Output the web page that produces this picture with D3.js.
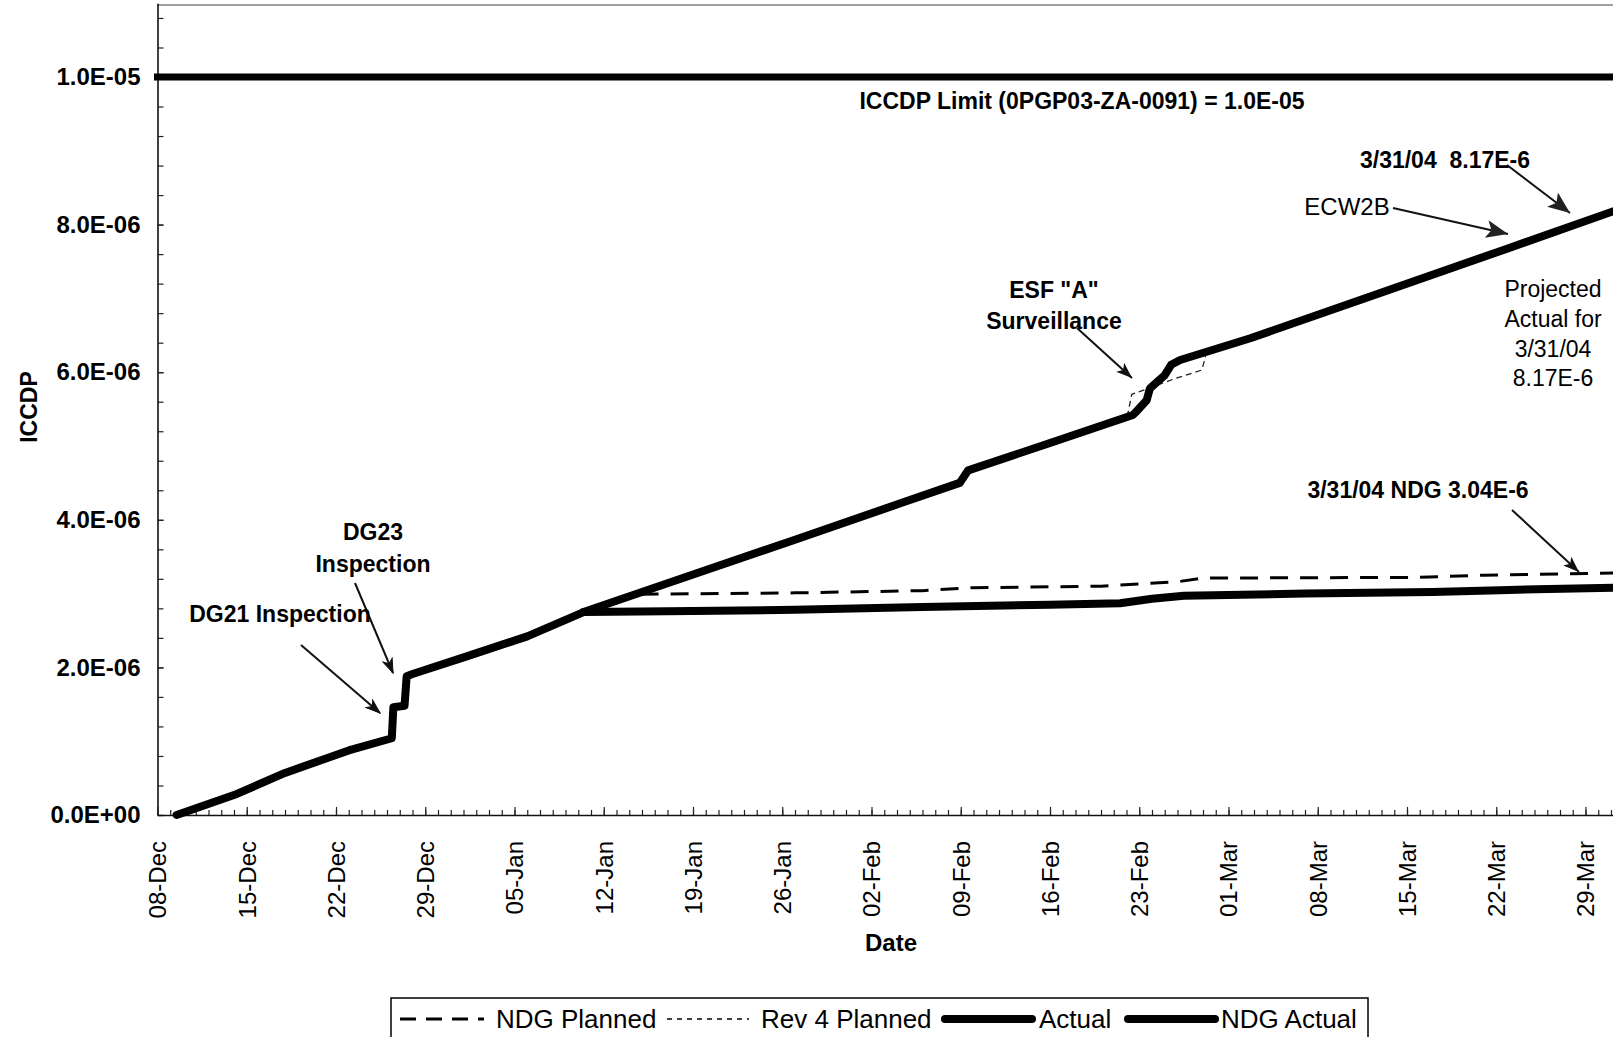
<!DOCTYPE html>
<html>
<head>
<meta charset="utf-8">
<script src="https://cdn.jsdelivr.net/npm/d3@7"></script>
<style>
  html, body { margin: 0; padding: 0; background: #fff; }
  svg { display: block; }
  text { font-family: "Liberation Sans", Arial, Helvetica, sans-serif; fill: #000; white-space: pre; }
</style>
</head>
<body>
<svg id="chart" width="1613" height="1037"></svg>
<script>
// ---------------- DATA ----------------
const xTickDates = ["2003-12-08","2003-12-15","2003-12-22","2003-12-29","2004-01-05","2004-01-12",
  "2004-01-19","2004-01-26","2004-02-02","2004-02-09","2004-02-16","2004-02-23","2004-03-01",
  "2004-03-08","2004-03-15","2004-03-22","2004-03-29"];
const xTickLabels = ["08-Dec","15-Dec","22-Dec","29-Dec","05-Jan","12-Jan","19-Jan","26-Jan",
  "02-Feb","09-Feb","16-Feb","23-Feb","01-Mar","08-Mar","15-Mar","22-Mar","29-Mar"];
const yTickValues = [0, 2e-6, 4e-6, 6e-6, 8e-6, 1e-5];
const yTickLabels = ["0.0E+00","2.0E-06","4.0E-06","6.0E-06","8.0E-06","1.0E-05"];

const limitDates = ["2003-12-08 00:00", "2004-04-03 00:00"];
const limitValues = [1.0e-5, 1.0e-5];

const actualDates = ["2003-12-09 12:00","2003-12-14 00:00","2003-12-18 00:00","2003-12-23 00:00",
  "2003-12-26 09:00","2003-12-26 12:00","2003-12-27 09:00","2003-12-27 13:00","2003-12-28 00:00",
  "2004-01-01 06:00","2004-01-06 00:00","2004-01-10 10:00","2004-01-17 00:00","2004-01-27 00:00",
  "2004-02-04 05:00","2004-02-08 22:00","2004-02-09 14:00","2004-02-16 00:00","2004-02-22 12:00",
  "2004-02-22 19:00","2004-02-23 14:00","2004-02-23 20:00","2004-02-24 10:00","2004-02-25 00:00",
  "2004-02-25 12:00","2004-02-26 05:00","2004-03-02 17:00","2004-03-12 00:00","2004-03-22 19:00",
  "2004-03-31 12:00"];
const actualValues = [0, 0.27e-6, 0.57e-6, 0.875e-6,
  1.04e-6, 1.46e-6, 1.48e-6, 1.88e-6, 1.91e-6,
  2.15e-6, 2.42e-6, 2.75e-6, 3.14e-6, 3.73e-6,
  4.22e-6, 4.50e-6, 4.67e-6, 5.04e-6, 5.42e-6,
  5.47e-6, 5.62e-6, 5.78e-6, 5.87e-6, 5.96e-6,
  6.10e-6, 6.165e-6, 6.46e-6, 7.02e-6, 7.67e-6,
  8.20e-6];

const rev4Dates = ["2003-12-09 12:00","2003-12-14 00:00","2003-12-18 00:00","2003-12-23 00:00",
  "2003-12-26 09:00","2003-12-26 12:00","2003-12-27 09:00","2003-12-27 13:00","2003-12-28 00:00",
  "2004-01-01 06:00","2004-01-06 00:00","2004-01-10 10:00","2004-01-27 00:00","2004-02-04 05:00",
  "2004-02-08 22:00","2004-02-09 14:00","2004-02-16 00:00","2004-02-22 01:00","2004-02-22 10:00",
  "2004-02-25 22:00","2004-02-27 22:00","2004-02-28 07:00","2004-03-02 17:00","2004-03-12 00:00",
  "2004-03-22 19:00","2004-03-31 12:00"];
const rev4Values = [0, 0.27e-6, 0.57e-6, 0.875e-6,
  1.04e-6, 1.46e-6, 1.48e-6, 1.88e-6, 1.91e-6,
  2.15e-6, 2.42e-6, 2.75e-6, 3.73e-6, 4.22e-6,
  4.50e-6, 4.67e-6, 5.04e-6, 5.39e-6, 5.70e-6,
  5.92e-6, 6.03e-6, 6.28e-6, 6.46e-6, 7.02e-6,
  7.67e-6, 8.20e-6];

const ndgPlannedDates = ["2004-01-10 10:00","2004-01-14 10:00","2004-01-27 00:00","2004-02-06 00:00",
  "2004-02-10 00:00","2004-02-20 00:00","2004-02-23 00:00","2004-02-26 00:00","2004-02-28 00:00",
  "2004-03-16 00:00","2004-03-21 00:00","2004-03-31 12:00"];
const ndgPlannedValues = [2.75e-6, 2.99e-6, 3.01e-6, 3.04e-6,
  3.08e-6, 3.10e-6, 3.13e-6, 3.16e-6, 3.21e-6,
  3.22e-6, 3.25e-6, 3.28e-6];

const ndgActualDates = ["2004-01-10 10:00","2004-01-17 00:00","2004-01-27 00:00","2004-02-06 00:00",
  "2004-02-16 00:00","2004-02-21 12:00","2004-02-24 00:00","2004-02-26 12:00","2004-03-07 00:00",
  "2004-03-17 00:00","2004-03-23 00:00","2004-03-31 12:00"];
const ndgActualValues = [2.75e-6, 2.76e-6, 2.78e-6, 2.82e-6,
  2.85e-6, 2.87e-6, 2.93e-6, 2.97e-6, 3.00e-6,
  3.02e-6, 3.05e-6, 3.08e-6];

const legendNames = ["NDG Planned", "Rev 4 Planned", "Actual", "NDG Actual"];

// ---------------- LAYOUT ----------------
const svg = d3.select("#chart");
const FONT = '"Liberation Sans", Arial, Helvetica, sans-serif';
const parseDT = d3.timeParse("%Y-%m-%d %H:%M");
const parseD = d3.timeParse("%Y-%m-%d");
const pxPerDay = 12.75;
const x0 = 157.5;
const startDate = parseD("2003-12-08");
const endDate = parseD("2004-04-03");
const nDays = Math.round((endDate - startDate) / 864e5);
const x = d3.scaleTime().domain([startDate, endDate]).range([x0, x0 + nDays * pxPerDay]);
const y = d3.scaleLinear().domain([0, 1.1e-5]).range([815, 815 - 11 * 73.8]);

const zip = (ds, vs) => ds.map((d, i) => ({ date: parseDT(d), value: vs[i] }));
const line = d3.line().x(d => x(d.date)).y(d => y(d.value));

// frame top
svg.append("line").attr("x1", x0).attr("x2", 1613).attr("y1", 5).attr("y2", 5)
  .attr("stroke", "#444").attr("stroke-width", 1.2);

// ---- Y axis ----
const minorY = d3.range(0, 1.1e-5 + 1e-12, 4e-7);
svg.append("g").attr("transform", `translate(${x0},0)`)
  .call(d3.axisLeft(y).tickValues(minorY).tickFormat("").tickSizeInner(-6).tickSizeOuter(0))
  .call(g => g.selectAll("line").attr("stroke", "#222").attr("stroke-width", 1.2))
  .call(g => g.select(".domain").attr("stroke", "#111").attr("stroke-width", 1.6));
svg.append("g").attr("transform", `translate(${x0},0)`)
  .call(d3.axisLeft(y).tickValues(yTickValues).tickFormat((d, i) => yTickLabels[i])
    .tickSizeInner(-6).tickSizeOuter(0).tickPadding(17))
  .call(g => g.select(".domain").remove())
  .call(g => g.selectAll("line").attr("stroke", "#222").attr("stroke-width", 1.2))
  .call(g => g.selectAll("text").attr("font-family", FONT).attr("font-size", 24)
    .attr("font-weight", "bold").attr("fill", "#000"));

// ---- X axis ----
const dailyTicks = d3.timeDay.range(startDate, endDate);
svg.append("g").attr("transform", `translate(0,${y(0)})`)
  .call(d3.axisBottom(x).tickValues(dailyTicks).tickFormat("").tickSizeInner(-5).tickSizeOuter(0))
  .call(g => g.selectAll("line").attr("stroke", "#222").attr("stroke-width", 1.2))
  .call(g => g.select(".domain").attr("stroke", "#111").attr("stroke-width", 1.6));
const weekDates = xTickDates.map(parseD);
svg.append("g").attr("transform", `translate(0,${y(0)})`)
  .call(d3.axisBottom(x).tickValues(weekDates).tickFormat((d, i) => xTickLabels[i])
    .tickSizeInner(-8).tickSizeOuter(0))
  .call(g => g.select(".domain").remove())
  .call(g => g.selectAll("line").attr("stroke", "#222").attr("stroke-width", 1.2))
  .call(g => g.selectAll("text")
    .attr("font-family", FONT).attr("font-size", 24).attr("fill", "#000")
    .attr("transform", "rotate(-90)").attr("x", -26).attr("y", 0).attr("dy", "0.35em")
    .attr("text-anchor", "end"));

// axis titles
svg.append("text").attr("transform", "translate(29,407) rotate(-90)")
  .attr("text-anchor", "middle").attr("dy", "0.35em")
  .attr("font-size", 23).attr("font-weight", "bold").text("ICCDP");
svg.append("text").attr("x", 891).attr("y", 943).attr("text-anchor", "middle").attr("dy", "0.35em")
  .attr("font-size", 24).attr("font-weight", "bold").text("Date");

// ---- Series ----
svg.append("path").datum(zip(ndgPlannedDates, ndgPlannedValues)).attr("d", line)
  .attr("fill", "none").attr("stroke", "#000").attr("stroke-width", 3)
  .attr("stroke-dasharray", "18,12");
svg.append("path").datum(zip(rev4Dates, rev4Values)).attr("d", line)
  .attr("fill", "none").attr("stroke", "#222").attr("stroke-width", 1.3)
  .attr("stroke-dasharray", "6,4");
svg.append("path").datum(zip(actualDates, actualValues)).attr("d", line)
  .attr("fill", "none").attr("stroke", "#000").attr("stroke-width", 8)
  .attr("stroke-linejoin", "round").attr("stroke-linecap", "round");
svg.append("path").datum(zip(ndgActualDates, ndgActualValues)).attr("d", line)
  .attr("fill", "none").attr("stroke", "#000").attr("stroke-width", 8)
  .attr("stroke-linejoin", "round").attr("stroke-linecap", "round");
svg.append("path").datum(zip(limitDates, limitValues)).attr("d", line)
  .attr("fill", "none").attr("stroke", "#000").attr("stroke-width", 7)
  .attr("stroke-linecap", "square");

// ---- Annotations ----
const defs = svg.append("defs");
defs.append("marker").attr("id", "headFill").attr("viewBox", "0 0 16 12")
  .attr("refX", 16).attr("refY", 6).attr("markerWidth", 16).attr("markerHeight", 12)
  .attr("markerUnits", "userSpaceOnUse").attr("orient", "auto")
  .append("path").attr("d", "M0,0 L16,6 L0,12 L4,6 Z").attr("fill", "#111");
defs.append("marker").attr("id", "headBig").attr("viewBox", "0 0 22 18")
  .attr("refX", 22).attr("refY", 9).attr("markerWidth", 22).attr("markerHeight", 18)
  .attr("markerUnits", "userSpaceOnUse").attr("orient", "auto")
  .append("path").attr("d", "M0,0 L22,9 L0,18 L5,9 Z").attr("fill", "#222");
defs.append("marker").attr("id", "headOpen").attr("viewBox", "0 0 16 12")
  .attr("refX", 15).attr("refY", 6).attr("markerWidth", 16).attr("markerHeight", 12)
  .attr("markerUnits", "userSpaceOnUse").attr("orient", "auto")
  .append("path").attr("d", "M1,1 L15,6 L1,11 L5,6 Z").attr("fill", "#111")
  .attr("stroke", "#111").attr("stroke-width", 1);

const arrows = [
  { x1: 301, y1: 645, x2: 380, y2: 713, m: "headOpen" },
  { x1: 355, y1: 583, x2: 393, y2: 673, m: "headOpen" },
  { x1: 1077, y1: 328, x2: 1132, y2: 378, m: "headFill" },
  { x1: 1393, y1: 208, x2: 1508, y2: 234, m: "headBig" },
  { x1: 1507, y1: 165, x2: 1570, y2: 213, m: "headBig" },
  { x1: 1512, y1: 510, x2: 1579, y2: 572, m: "headFill" }
];
svg.selectAll(".arrow").data(arrows).join("line").attr("class", "arrow")
  .attr("x1", d => d.x1).attr("y1", d => d.y1).attr("x2", d => d.x2).attr("y2", d => d.y2)
  .attr("stroke", "#111").attr("stroke-width", 2).attr("marker-end", d => `url(#${d.m})`);

const labels = [
  { t: "ICCDP Limit (0PGP03-ZA-0091) = 1.0E-05", x: 1082, y: 101, b: true },
  { t: "3/31/04  8.17E-6", x: 1445, y: 160, b: true },
  { t: "ECW2B", x: 1347, y: 207, b: false, s: 24 },
  { t: "Projected", x: 1553, y: 289, b: false },
  { t: "Actual for", x: 1553, y: 319, b: false },
  { t: "3/31/04", x: 1553, y: 349, b: false },
  { t: "8.17E-6", x: 1553, y: 378, b: false },
  { t: "ESF \"A\"", x: 1054, y: 290, b: true },
  { t: "Surveillance", x: 1054, y: 321, b: true },
  { t: "3/31/04 NDG 3.04E-6", x: 1418, y: 490, b: true },
  { t: "DG23", x: 373, y: 532, b: true },
  { t: "Inspection", x: 373, y: 564, b: true },
  { t: "DG21 Inspection", x: 280, y: 614, b: true }
];
svg.selectAll(".ann").data(labels).join("text").attr("class", "ann")
  .attr("x", d => d.x).attr("y", d => d.y).attr("dy", "0.35em").attr("text-anchor", "middle")
  .attr("font-size", d => d.s || 23).attr("font-weight", d => d.b ? "bold" : "normal")
  .text(d => d.t);

// ---- Legend ----
const lg = svg.append("g");
lg.append("rect").attr("x", 391).attr("y", 998).attr("width", 977).attr("height", 70)
  .attr("fill", "#fff").attr("stroke", "#000").attr("stroke-width", 1.5);
const legendItems = [
  { name: legendNames[0], sx1: 400, sx2: 484, tx: 496, w: 3, dash: "16,10", cap: "butt" },
  { name: legendNames[1], sx1: 667, sx2: 749, tx: 761, w: 1.3, dash: "5,5", cap: "butt" },
  { name: legendNames[2], sx1: 945, sx2: 1032, tx: 1039, w: 8, dash: null, cap: "round" },
  { name: legendNames[3], sx1: 1128, sx2: 1215, tx: 1221, w: 8, dash: null, cap: "round" }
];
legendItems.forEach(it => {
  lg.append("line").attr("x1", it.sx1).attr("x2", it.sx2).attr("y1", 1019).attr("y2", 1019)
    .attr("stroke", "#000").attr("stroke-width", it.w).attr("stroke-linecap", it.cap)
    .attr("stroke-dasharray", it.dash);
  lg.append("text").attr("x", it.tx).attr("y", 1019).attr("dy", "0.35em")
    .attr("font-size", 26).text(it.name);
});
</script>
</body>
</html>
